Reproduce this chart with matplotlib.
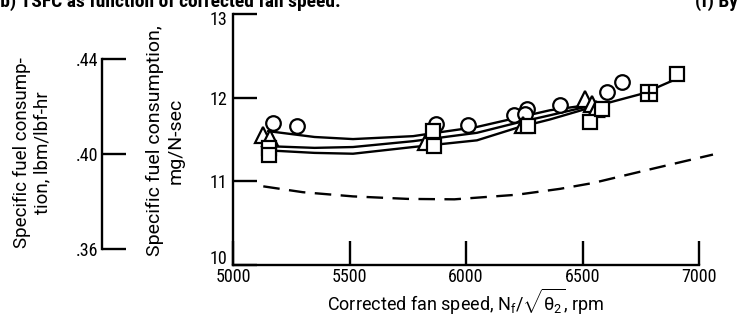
import matplotlib
matplotlib.use("Agg")
import matplotlib.pyplot as plt
from matplotlib import font_manager
from matplotlib.ticker import FixedLocator, FuncFormatter
from matplotlib.transforms import ScaledTranslation

# ---------------- data ----------------
# measured points: corrected fan speed (rpm) vs SFC (mg/N-sec)
circle_x = [5170, 5275, 5870, 6010, 6205, 6262, 6255, 6403, 6607, 6670]
circle_y = [11.70, 11.66, 11.68, 11.67, 11.79, 11.87, 11.81, 11.91, 12.07, 12.19]

triangle_x = [5130, 5160, 5830, 6245, 6511, 6541, 6556]
triangle_y = [11.55, 11.52, 11.47, 11.67, 11.98, 11.92, 11.87]

square_x = [5155, 5155, 5860, 5862, 6265, 6532, 6584, 6906]
square_y = [11.40, 11.31, 11.60, 11.42, 11.66, 11.71, 11.87, 12.28]

square_cross_x = [6785]
square_cross_y = [12.05]

# faired curves through each data set
fair_upper_x = [5150, 5350, 5515, 5773, 5833, 6047, 6219, 6361, 6545]
fair_upper_y = [11.60, 11.53, 11.505, 11.54, 11.565, 11.65, 11.76, 11.85, 11.92]

fair_mid_x = [5150, 5350, 5515, 5773, 6047, 6219, 6361, 6545]
fair_mid_y = [11.42, 11.40, 11.41, 11.48, 11.58, 11.70, 11.79, 11.91]

fair_lower_x = [5150, 5350, 5515, 5773, 6047, 6219, 6361, 6545, 6760, 6900]
fair_lower_y = [11.37, 11.34, 11.33, 11.41, 11.49, 11.64, 11.74, 11.89, 12.05, 12.22]

# predicted curve
pred_x = [5130, 5300, 5515, 5750, 5950, 6219, 6403, 6545, 6800, 7060]
pred_y = [10.94, 10.87, 10.82, 10.79, 10.785, 10.84, 10.91, 10.98, 11.15, 11.32]

x_ticks = [5000, 5500, 6000, 6500, 7000]
y_ticks = [10, 11, 12, 13]
english_ticks = [0.36, 0.40, 0.44]
SI_PER_ENGLISH = 28.325  # mg/N-sec per lbm/lbf-hr

# ---------------- fonts ----------------
available = {f.name for f in font_manager.fontManager.ttflist}

def pick(cands):
    for c in cands:
        if c in available:
            return c
    return "DejaVu Sans"

narrow = pick(["Roboto Condensed", "Liberation Sans Narrow", "Roboto"])
text_font = pick(["Roboto", "Liberation Sans", "DejaVu Sans"])
plt.rcParams["font.family"] = [narrow, "DejaVu Sans"]
plt.rcParams["mathtext.fontset"] = "custom"
plt.rcParams["mathtext.rm"] = text_font
plt.rcParams["mathtext.it"] = text_font
plt.rcParams["mathtext.bf"] = text_font
label_kw = dict(family=[text_font, "DejaVu Sans"])

# ---------------- figure ----------------
W, H = 738, 335
fig = plt.figure(figsize=(W / 100, H / 100), dpi=100)
ax = fig.add_axes([233 / W, (H - 265) / H, (699 - 233) / W, (265 - 14) / H])

lw = 1.7
for xs, ys in [(fair_upper_x, fair_upper_y), (fair_mid_x, fair_mid_y),
               (fair_lower_x, fair_lower_y)]:
    ax.plot(xs, ys, color="black", lw=lw, solid_capstyle="round", zorder=2)
ax.plot(pred_x, pred_y, color="black", lw=lw, dashes=(7, 4), clip_on=False, zorder=2)

mk = dict(linestyle="none", markerfacecolor="white", markeredgecolor="black",
          markeredgewidth=1.6, zorder=3)
ax.plot(circle_x, circle_y, marker="o", ms=10.5, **mk)
ax.plot(triangle_x, triangle_y, marker="^", ms=11, **mk)
ax.plot(square_x, square_y, marker="s", ms=9.5, **mk)
ax.plot(square_cross_x, square_cross_y, marker="s", ms=11, **mk)
ax.plot(square_cross_x, square_cross_y, marker="+", ms=11, linestyle="none",
        color="black", markeredgewidth=1.6, zorder=4)

ax.set_xlim(5000, 7000)
ax.set_ylim(10, 13)
ax.spines["top"].set_visible(False)
ax.spines["right"].set_visible(False)
for s in ("left", "bottom"):
    ax.spines[s].set_linewidth(1.7)

ax.xaxis.set_major_locator(FixedLocator(x_ticks))
ax.yaxis.set_major_locator(FixedLocator(y_ticks))
ax.tick_params(axis="both", direction="in", length=17, width=1.7,
               labelsize=13, pad=4)
ax.tick_params(axis="x", pad=2)

# nudge the end labels of the SI scale clear of the corner
ticks = ax.yaxis.get_major_ticks()
ticks[0].label1.set_transform(ticks[0].label1.get_transform()
                              + ScaledTranslation(0, 8 / 100, fig.dpi_scale_trans))
ticks[-1].label1.set_transform(ticks[-1].label1.get_transform()
                               + ScaledTranslation(0, -4 / 100, fig.dpi_scale_trans))

# fan-speed axis title
fig.text(466 / W, 1 - 311 / H, r"Corrected fan speed, $N_f/\sqrt{\theta_2}$, rpm",
         ha="center", va="baseline", fontsize=13, **label_kw)

# SI-unit axis title
fig.text(165 / W, 1 - 141 / H, "Specific fuel consumption,\nmg/N-sec",
         rotation=90, ha="center", va="center", multialignment="center",
         fontsize=14, **label_kw)

# secondary English-unit scale
sec = ax.secondary_yaxis((102 - 233) / (699 - 233),
                         functions=(lambda v: v / SI_PER_ENGLISH,
                                    lambda v: v * SI_PER_ENGLISH))
sec.yaxis.set_major_locator(FixedLocator(english_ticks))
sec.yaxis.set_major_formatter(FuncFormatter(lambda v, p: ("%.2f" % v)[1:]))
sec.spines["left"].set_bounds(0.36, 0.44)
sec.spines["left"].set_linewidth(1.7)
sec.tick_params(axis="y", direction="in", length=17, width=1.7,
                labelsize=13, pad=3)
fig.text(32 / W, 1 - 153 / H, "Specific fuel consump-\ntion, lbm/lbf-hr",
         rotation=90, ha="center", va="center", multialignment="center",
         fontsize=13.5, **label_kw)

# caption line at the top edge
fig.text(-0.008, 1 - 7 / H, "(b) TSFC as function of corrected fan speed.",
         fontsize=14, fontweight="bold", va="baseline", ha="left")
fig.text(1.0, 1 - 7 / H, "(f) By", fontsize=14, fontweight="bold",
         va="baseline", ha="right")

fig.savefig("out.png", dpi=100)
